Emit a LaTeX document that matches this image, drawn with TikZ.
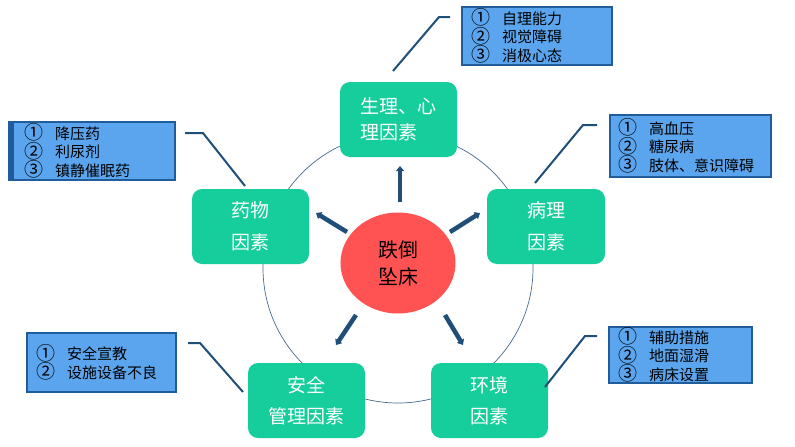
\documentclass[tikz,border=0pt]{standalone}
\usepackage{fontspec}
\setmainfont{Noto Sans CJK SC}
\usetikzlibrary{arrows.meta,shapes.geometric}
\definecolor{gbox}{HTML}{16CE9C}
\definecolor{rcirc}{HTML}{FF5252}
\definecolor{cfill}{HTML}{5BA5EE}
\definecolor{cline}{HTML}{1F5C99}
\definecolor{navy}{HTML}{1F4E79}
\definecolor{ring}{HTML}{4A6A90}
\tikzset{
  factor/.style={fill=gbox, rounded corners=10pt, text=white, align=center,
    font=\fontsize{19}{32}\selectfont, inner sep=0pt},
  callout/.style={fill=cfill, draw=cline, line width=2pt, align=left,
    font=\fontsize{15}{18.5}\selectfont, inner ysep=0pt, inner xsep=9pt, text=black},
  ray/.style={navy, line width=4.5pt, -{Triangle[length=5pt,width=8pt]}},
  leader/.style={navy, line width=2pt},
}
\newcommand{\nm}[1]{\makebox[31pt][l]{\raisebox{-0.5pt}{\fontsize{19}{18.5}\selectfont #1}}}
\begin{document}
\begin{tikzpicture}[x=1pt,y=-1pt]
\useasboundingbox (0,0) rectangle (795,447);
\fill[white] (0,0) rectangle (795,447);
% ring
\draw[ring, line width=0.7pt] (398,268) circle (135);
% factor boxes
\node[factor, minimum width=117, minimum height=75, font=\fontsize{19}{26}\selectfont, align=left] (gTop) at (398.5,119.5) {生理、心\\理因素};
\node[factor, minimum width=117, minimum height=75] (gDrug) at (250.5,226.5) {药物\\因素};
\node[factor, minimum width=118, minimum height=75] (gPath) at (546,226.5) {病理\\因素};
\node[factor, minimum width=117, minimum height=75, font=\fontsize{19}{31}\selectfont] (gSafe) at (306.5,400.5) {安全\\管理因素};
\node[factor, minimum width=117, minimum height=75, font=\fontsize{19}{31}\selectfont] (gEnv) at (489.5,400.5) {环境\\因素};
% center
\node[fill=rcirc, ellipse, minimum width=115, minimum height=101, inner sep=0pt, align=center,
  font=\fontsize{20}{27}\selectfont] (c) at (398,263) {跌倒\\坠床};
% rays
\coordinate (a1s) at (400,202); \coordinate (a1e) at (400,166);
\coordinate (a2s) at (347,232); \coordinate (a2e) at (316,213);
\coordinate (a3s) at (450,232); \coordinate (a3e) at (480,213);
\coordinate (a4s) at (356,315); \coordinate (a4e) at (336,345);
\coordinate (a5s) at (445,315); \coordinate (a5e) at (463,345);
\draw[ray] (a1s) -- (a1e);
\draw[ray] (a2s) -- (a2e);
\draw[ray] (a3s) -- (a3e);
\draw[ray] (a4s) -- (a4e);
\draw[ray] (a5s) -- (a5e);
% callouts
\node[callout, minimum width=150, minimum height=58, text width=132] (cTop) at (537,36)
  {\nm{①}自理能力\\\nm{②}视觉障碍\\\nm{③}消极心态};
\node[callout, minimum width=166, minimum height=58, text width=136, inner xsep=15pt] (cDrug) at (92,151)
  {\nm{①}降压药\\\nm{②}利尿剂\\\nm{③}镇静催眠药};
\fill[cline] (cDrug.north west) rectangle ([xshift=6pt]cDrug.south west);
\node[callout, minimum width=161, minimum height=62, text width=145, inner xsep=8pt] (cPath) at (690.5,146)
  {\nm{①}高血压\\\nm{②}糖尿病\\\nm{③}肢体、意识障碍};
\node[callout, minimum width=149, minimum height=59, text width=131] (cSafe) at (101.5,362.5)
  {\nm{①}安全宣教\\\nm{②}设施设备不良};
\node[callout, minimum width=143, minimum height=56, text width=125] (cEnv) at (680.5,355)
  {\nm{①}辅助措施\\\nm{②}地面湿滑\\\nm{③}病床设置};
% leaders
\coordinate (t1) at (393,71); \coordinate (t2) at (439,17); \coordinate (t3) at (450,17);
\draw[leader] (t1) -- (t2) -- (t3);
\coordinate (l1) at (185,133); \coordinate (l2) at (203,133); \coordinate (l3) at (245,186);
\draw[leader] (l1) -- (l2) -- (l3);
\coordinate (r1) at (535,183); \coordinate (r2) at (583,125); \coordinate (r3) at (597,125);
\draw[leader] (r1) -- (r2) -- (r3);
\coordinate (b1) at (188,343); \coordinate (b2) at (200,343); \coordinate (b3) at (243,392);
\draw[leader] (b1) -- (b2) -- (b3);
\coordinate (e1) at (597,336); \coordinate (e2) at (585,336); \coordinate (e3) at (545,387);
\draw[leader] (e1) -- (e2) -- (e3);
\end{tikzpicture}
\end{document}
